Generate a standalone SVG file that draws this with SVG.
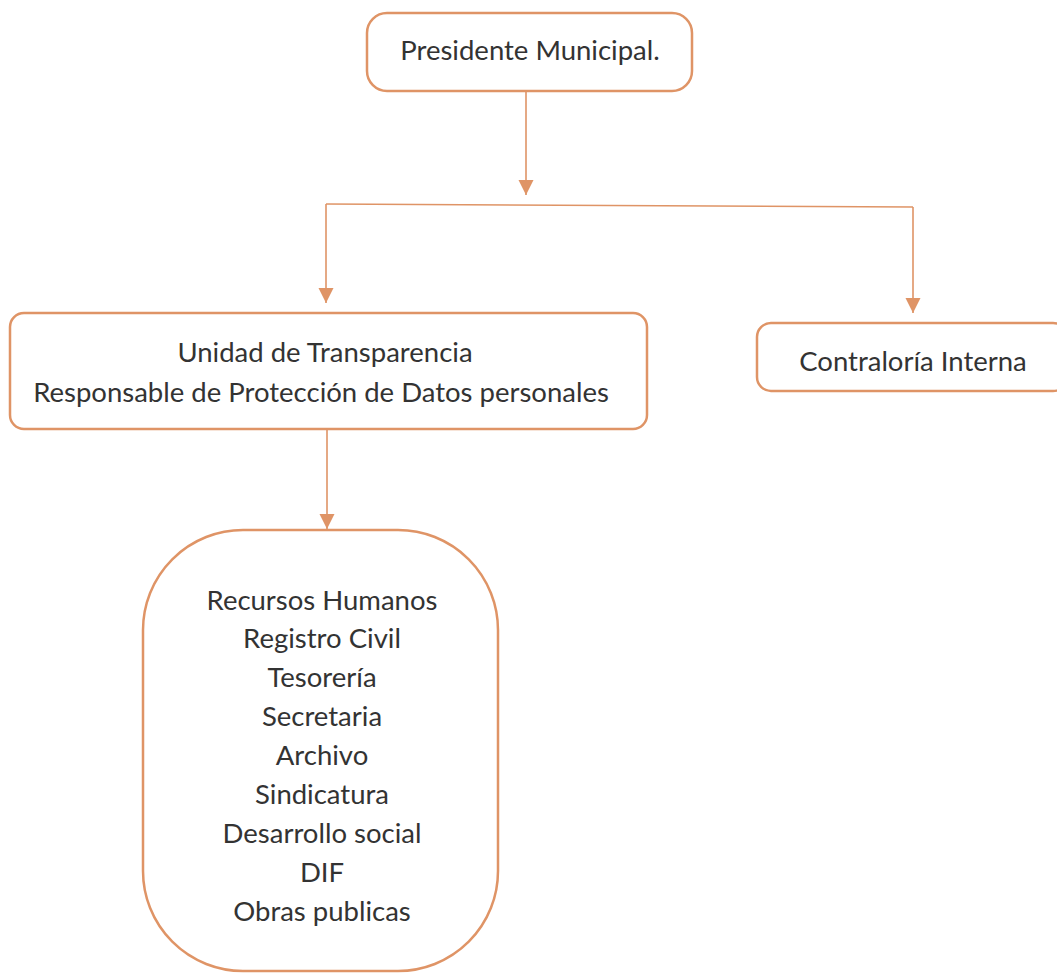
<svg xmlns="http://www.w3.org/2000/svg" width="1057" height="975" viewBox="0 0 1057 975">
<style>
.box{fill:#fff;stroke:#df9466;stroke-width:2.5}
.ln{fill:none;stroke:#df9466;stroke-width:1.6}
text{font-family:Lato,"Open Sans",sans-serif;fill:#333;text-anchor:middle;font-size:27.5px}
</style>
<defs>
<marker id="ah" viewBox="0 0 10 10" refX="10" refY="5" markerWidth="15" markerHeight="16" markerUnits="userSpaceOnUse" orient="auto">
<path d="M0,0 L10,5 L0,10 Z" fill="#df9466"/>
</marker>
</defs>
<rect width="1057" height="975" fill="#fff"/>
<g id="connectors">
<path class="ln" d="M526,91 V195" marker-end="url(#ah)"/>
<path class="ln" d="M326,204 L913,207"/>
<path class="ln" d="M326,204 V303" marker-end="url(#ah)"/>
<path class="ln" d="M913,207 V313" marker-end="url(#ah)"/>
<path class="ln" d="M327,430 V529" marker-end="url(#ah)"/>
</g>
<g id="presidente">
<rect class="box" x="367" y="13" width="325" height="78" rx="20"/>
<text x="530" y="60">Presidente Municipal.</text>
</g>
<g id="unidad">
<rect class="box" x="10" y="313" width="637" height="116" rx="14"/>
<text x="325" y="362">Unidad de Transparencia</text>
<text x="321" y="402">Responsable de Protección de Datos personales</text>
</g>
<g id="contraloria">
<rect class="box" x="757" y="323" width="310" height="68" rx="14"/>
<text x="913" y="371">Contraloría Interna</text>
</g>
<g id="areas">
<rect class="box" x="143" y="530" width="355" height="441" rx="100"/>
<text x="322" y="610">Recursos Humanos</text>
<text x="322" y="648">Registro Civil</text>
<text x="322" y="687">Tesorería</text>
<text x="322" y="726">Secretaria</text>
<text x="322" y="765">Archivo</text>
<text x="322" y="804">Sindicatura</text>
<text x="322" y="843">Desarrollo social</text>
<text x="322" y="882">DIF</text>
<text x="322" y="921">Obras publicas</text>
</g>
</svg>
